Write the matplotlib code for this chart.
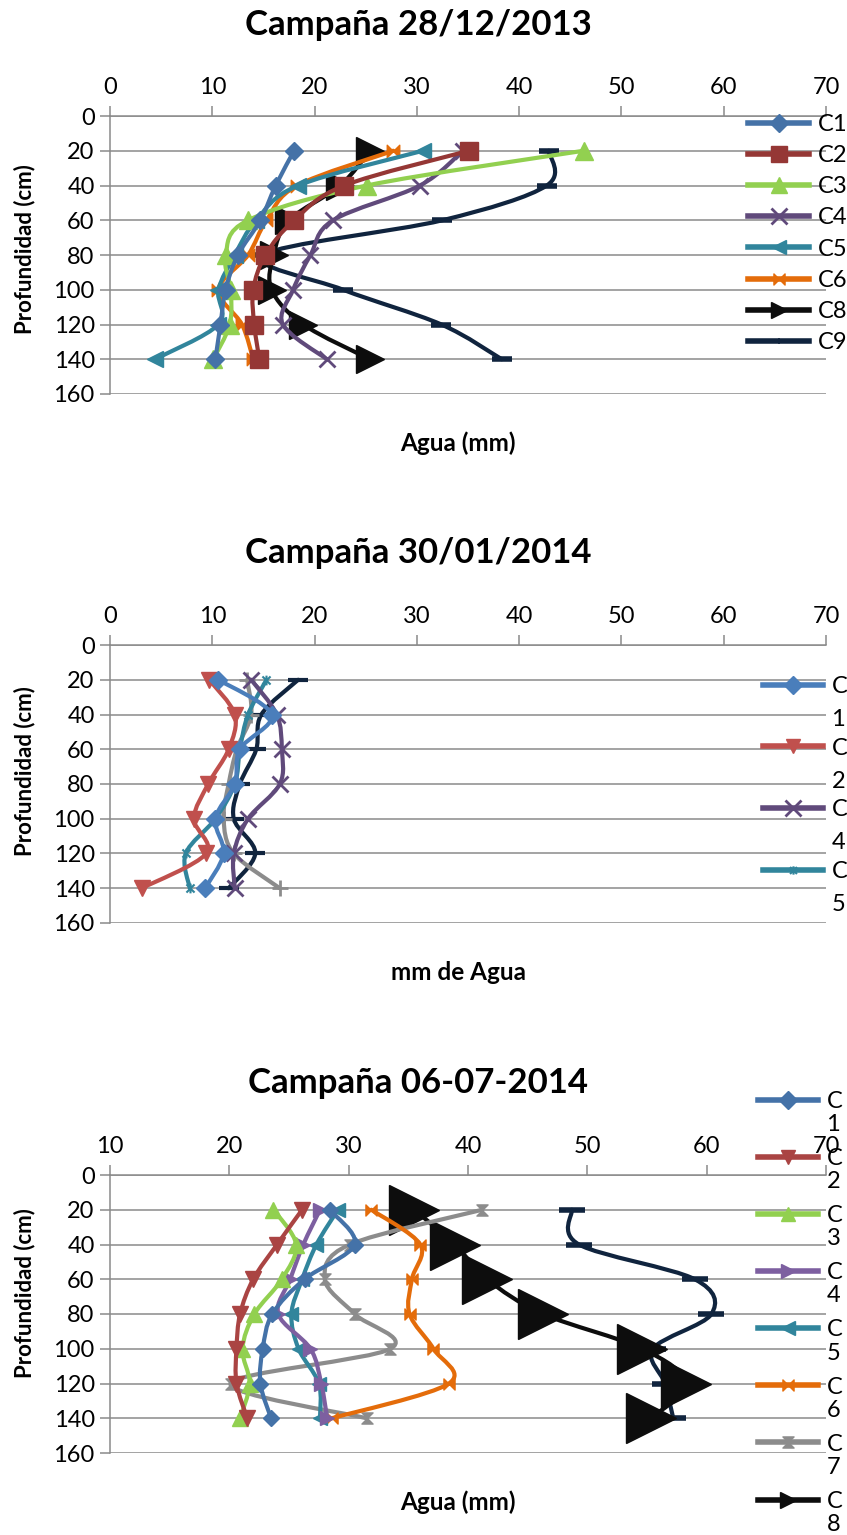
import numpy as np
import matplotlib.pyplot as plt
from matplotlib.path import Path
from matplotlib.patches import PathPatch
from matplotlib.lines import Line2D

plt.rcParams['font.family'] = ['Lato', 'DejaVu Sans']

W, H = 847, 1535
depth = [20, 40, 60, 80, 100, 120, 140]

# Campaña 28/12/2013
c1_a = [18.0, 16.2, 14.7, 12.5, 11.3, 10.8, 10.3]
c2_a = [35.1, 22.9, 18.0, 15.2, 14.0, 14.1, 14.6]
c3_a = [46.3, 25.1, 13.5, 11.3, 11.8, 11.7, 10.1]
c4_a = [34.5, 30.3, 21.8, 19.6, 17.9, 16.9, 21.2]
c5_a = [30.6, 18.4, 14.3, 12.2, 10.6, 10.6, 4.4]
c6_a = [27.7, 18.3, 15.3, 13.5, 10.6, 12.9, 14.0]
c8_a = [25.4, 22.5, 17.5, 16.0, 15.8, 18.9, 25.4]
c9_a = [42.9, 42.7, 32.5, 15.0, 22.8, 32.4, 38.3]

# Campaña 30/01/2014
c1_b = [10.6, 15.8, 12.7, 12.2, 10.3, 11.1, 9.3]
c2_b = [9.7, 12.2, 11.6, 9.6, 8.2, 9.4, 3.1]
c4_b = [13.8, 16.3, 16.8, 16.6, 13.5, 12.1, 12.2]
c5_b = [15.3, 13.5, 12.7, 12.2, 10.3, 7.4, 7.8]
c6_b = [13.4, 13.8, 12.4, 11.6, 11.1, 12.1, 16.6]
c8_b = [18.4, 14.8, 14.3, 12.7, 12.1, 14.2, 11.6]

# Campaña 06-07-2014
c1_c = [28.4, 30.5, 26.3, 23.6, 22.8, 22.6, 23.5]
c2_c = [26.1, 24.0, 22.0, 20.9, 20.6, 20.6, 21.5]
c3_c = [23.7, 25.6, 24.4, 22.1, 21.1, 21.7, 20.9]
c4_c = [27.6, 26.2, 25.1, 24.1, 26.8, 27.7, 28.2]
c5_c = [29.1, 27.3, 26.1, 25.2, 25.8, 27.5, 27.6]
c6_c = [31.9, 36.0, 35.3, 35.1, 37.1, 38.4, 28.6]
c7_c = [41.2, 30.1, 28.0, 30.5, 33.5, 20.1, 31.5]
c8_c = [35.5, 38.9, 41.6, 46.3, 54.6, 58.3, 55.3]
c9_c = [48.7, 49.3, 59.0, 60.4, 55.5, 56.5, 57.2]

# custom markers
M, L, C = Path.MOVETO, Path.LINETO, Path.CLOSEPOLY
bowtie = Path([(-1, -1), (0, 0), (-1, 1), (-1, -1), (1, -1), (0, 0), (1, 1), (1, -1)],
              [M, L, L, C, M, L, L, C])
hourglass = Path([(-1, 1), (0, 0), (1, 1), (-1, 1), (-1, -1), (0, 0), (1, -1), (-1, -1)],
                 [M, L, L, C, M, L, L, C])
star = Path([(-1, -1), (1, 1), (-1, 1), (1, -1), (0, -1.2), (0, 1.2)], [M, L, M, L, M, L])


def smooth(ax, x, y, color, lw, z):
    # excel-like smoothed line (bezier through the points)
    x = np.asarray(x, float)
    y = np.asarray(y, float)
    n = len(x)
    verts = [(x[0], y[0])]
    codes = [Path.MOVETO]
    for i in range(n - 1):
        xa, ya = (x[i - 1], y[i - 1]) if i > 0 else (x[i], y[i])
        xb, yb = (x[i + 2], y[i + 2]) if i + 2 < n else (x[i + 1], y[i + 1])
        verts += [(x[i] + (x[i + 1] - xa) / 6, y[i] + (y[i + 1] - ya) / 6),
                  (x[i + 1] - (xb - x[i]) / 6, y[i + 1] - (yb - y[i]) / 6),
                  (x[i + 1], y[i + 1])]
        codes += [Path.CURVE4] * 3
    ax.add_patch(PathPatch(Path(verts, codes), fill=False, edgecolor=color, lw=lw,
                           zorder=z, capstyle='round', joinstyle='round'))


def setup(ax, xmin):
    ax.set_xlim(xmin, 70)
    ax.set_ylim(160, 0)
    ax.set_xticks(range(xmin, 71, 10))
    ax.set_yticks(range(0, 161, 20))
    ax.xaxis.tick_top()
    ax.grid(axis='y', color='#8a8a8a', lw=1.1)
    ax.set_axisbelow(True)
    for s in ['right', 'bottom']:
        ax.spines[s].set_visible(False)
    for s in ['top', 'left']:
        ax.spines[s].set_color('#8a8a8a')
        ax.spines[s].set_linewidth(1.1)
    ax.tick_params(direction='out', length=7, width=1.1, color='#8a8a8a', labelsize=17)
    ax.tick_params(axis='x', pad=6)
    ax.tick_params(axis='y', pad=4)


def draw(ax, series, lw):
    handles = []
    for i, (vals, label, color, mk, ms, mew, lms) in enumerate(series):
        z = 20 - i
        smooth(ax, vals, depth, color, lw, z)
        fc = 'none' if mk in ('x', '+', '_', star) else color
        ax.plot(vals, depth, ls='none', marker=mk, ms=ms, mfc=fc, mec=color, mew=mew, zorder=z)
        if label:
            handles.append((Line2D([], [], color=color, lw=4, marker=mk, ms=lms, mfc=fc,
                                   mec=color, mew=mew), label))
    return handles


fig = plt.figure(figsize=(W / 100, H / 100), dpi=100)


def add_axes(top, bottom):
    return fig.add_axes([110 / W, 1 - bottom / H, 716 / W, (bottom - top) / H])


def label_panel(title, ty, xlabel, xy, ycenter):
    fig.text(418 / W, 1 - ty / H, title, ha='center', va='center', fontsize=25, fontweight='bold')
    fig.text(458 / W, 1 - xy / H, xlabel, ha='center', va='center', fontsize=17.5, fontweight='bold')
    fig.text(25 / W, 1 - ycenter / H, 'Profundidad (cm)', ha='center',
             va='center', rotation=90, fontsize=16, fontweight='bold')


# panel 1
ax1 = add_axes(116, 394)
setup(ax1, 0)
s1 = [
    (c1_a, 'C1', '#4572a7', 'D', 9, 1, 9),
    (c2_a, 'C2', '#953735', 's', 13, 1, 12),
    (c3_a, 'C3', '#92d050', '^', 13, 1, 11),
    (c4_a, 'C4', '#604a7b', 'x', 12, 2, 11),
    (c5_a, 'C5', '#31859c', '<', 11, 1, 10),
    (c6_a, 'C6', '#e46c0a', bowtie, 9, 1, 8),
    (c8_a, 'C8', '#0d0d0d', '>', 20, 1, 11),
    (c9_a, 'C9', '#10243e', '_', 14, 4, 1),
]
h1 = draw(ax1, s1, 3)
leg1 = ax1.legend([h for h, _ in h1], [l for _, l in h1], loc='upper left',
                  bbox_to_anchor=(748 / W, 1 - 114 / H), bbox_transform=fig.transFigure,
                  frameon=False, fontsize=17, handlelength=2.6, handletextpad=0.35,
                  labelspacing=0.43, borderpad=0, borderaxespad=0)
label_panel('Campaña 28/12/2013', 25, 'Agua (mm)', 443, 249)

# panel 2
ax2 = add_axes(645, 923)
setup(ax2, 0)
s2 = [
    (c1_b, 'C1', '#4a7ebb', 'D', 9, 1, 9),
    (c2_b, 'C2', '#c0504d', 'v', 11, 1, 10),
    (c4_b, 'C4', '#604a7b', 'x', 12, 2, 11),
    (c5_b, 'C5', '#31859c', star, 7, 1.5, 6),
    (c6_b, None, '#8c8c8c', '+', 12, 2, 10),
    (c8_b, None, '#10243e', '_', 14, 3, 1),
]
h2 = draw(ax2, s2, 3)
leg2 = ax2.legend([h for h, _ in h2], ['C' for _ in h2], loc='upper left',
                  bbox_to_anchor=(763 / W, 1 - 676 / H), bbox_transform=fig.transFigure,
                  frameon=False, fontsize=17, handlelength=2.55, handletextpad=0.35,
                  labelspacing=1.72, borderpad=0, borderaxespad=0)
label_panel('Campaña 30/01/2014', 553, 'mm de Agua', 972, 771)

# panel 3
ax3 = add_axes(1175, 1453)
setup(ax3, 10)
s3 = [
    (c1_c, 'C1', '#4472a8', 'D', 8, 1, 9),
    (c2_c, 'C2', '#aa4443', 'v', 11, 1, 10),
    (c3_c, 'C3', '#92d050', '^', 11, 1, 10),
    (c4_c, 'C4', '#7d5fa0', '>', 10, 1, 10),
    (c5_c, 'C5', '#31859c', '<', 10, 1, 10),
    (c6_c, 'C6', '#e46c0a', bowtie, 8, 1, 8),
    (c7_c, 'C7', '#8c8c8c', hourglass, 8, 1, 8),
    (c8_c, 'C8', '#0d0d0d', '>', 36, 1, 11),
    (c9_c, None, '#10243e', '_', 19, 4, 1),
]
h3 = draw(ax3, s3, 3)
leg3 = ax3.legend([h for h, _ in h3], ['C' for _ in h3], loc='upper left',
                  bbox_to_anchor=(758 / W, 1 - 1091 / H), bbox_transform=fig.transFigure,
                  frameon=False, fontsize=17, handlelength=2.55, handletextpad=0.35,
                  labelspacing=1.53, borderpad=0, borderaxespad=0)
label_panel('Campaña 06-07-2014', 1083, 'Agua (mm)', 1502, 1293)

# second line of the wrapped legend labels (C / 1, C / 2 ...)
fig.canvas.draw()
for leg, hs, gap in [(leg2, h2, 33), (leg3, h3, 23)]:
    for t, (_, lab) in zip(leg.get_texts(), hs):
        bb = t.get_window_extent()
        fig.text(bb.x0 / W, (bb.y0 - gap) / H, lab[1:], fontsize=17, ha='left', va='bottom')

fig.savefig('out.png', dpi=100)
